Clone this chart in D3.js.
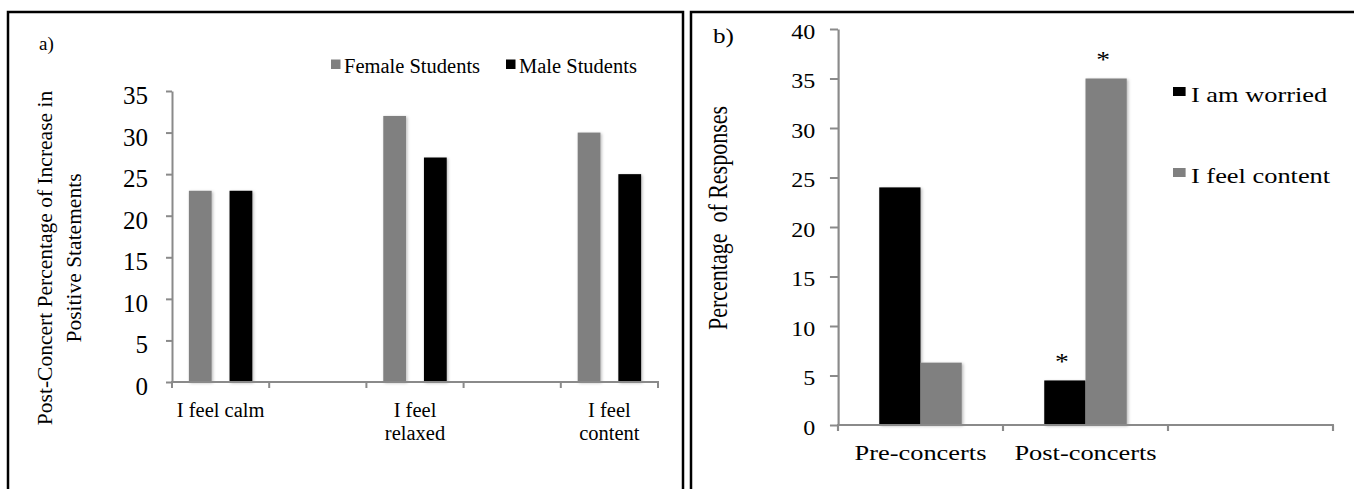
<!DOCTYPE html>
<html>
<head>
<meta charset="utf-8">
<script src="https://cdn.jsdelivr.net/npm/d3@7/dist/d3.min.js"></script>
<style>
  html, body { margin: 0; padding: 0; background: #fff; }
  svg { display: block; }
  text { font-family: "Liberation Serif", "Times New Roman", Times, serif; fill: #000; }
</style>
</head>
<body>
<svg id="chart" width="1354" height="489"></svg>
<script>
// ---------- DATA ----------
// Panel a
const categoriesA = ["I feel calm", "", "I feel relaxed", "", "I feel content"];
const tickLabelsA = [["I feel calm"], [], ["I feel", "relaxed"], [], ["I feel", "content"]];
const seriesNamesA = ["Female Students", "Male Students"];
const femaleValues = [23, null, 32, null, 30];
const maleValues = [23, null, 27, null, 25];
const yTicksA = [0, 5, 10, 15, 20, 25, 30, 35];
const yLabelA = ["Post-Concert Percentage of Increase in", "Positive Statements"];

// Panel b
const categoriesB = ["Pre-concerts", "Post-concerts", ""];
const seriesNamesB = ["I am worried", "I feel content"];
const worriedValues = [24, 4.5, null];
const contentValues = [6.3, 35, null];
const worriedSignificant = [false, true, false];
const contentSignificant = [false, true, false];
const yTicksB = [0, 5, 10, 15, 20, 25, 30, 35, 40];
const yLabelB = "Percentage  of Responses";

// ---------- STYLE ----------
const GRAY = "#808080";
const BLACK = "#000000";
const AXIS = "#8a8a8a";

const svg = d3.select("#chart");

const defs = svg.append("defs");
const f = defs.append("filter").attr("id", "shadow")
  .attr("x", "-20%").attr("y", "-5%").attr("width", "140%").attr("height", "110%");
f.append("feDropShadow").attr("dx", 1.2).attr("dy", 1).attr("stdDeviation", 1.4)
  .attr("flood-color", "#000").attr("flood-opacity", 0.28);

// Panel borders
svg.append("rect").attr("x", 8).attr("y", 12).attr("width", 675).attr("height", 520)
  .attr("fill", "none").attr("stroke", "#000").attr("stroke-width", 2.5);
svg.append("rect").attr("x", 691).attr("y", 12).attr("width", 720).attr("height", 520)
  .attr("fill", "none").attr("stroke", "#000").attr("stroke-width", 2.5);

// ================= PANEL A =================
(function () {
  const g = svg.append("g");
  const idx = d3.range(categoriesA.length);   // categories by position (blank ones repeat)
  const x = d3.scaleBand().domain(idx).range([172, 658]).padding(0);
  const xs = d3.scaleBand().domain(seriesNamesA).range([0, x.bandwidth()])
    .paddingInner(0.44).paddingOuter(0.415);
  const y = d3.scaleLinear().domain([0, 35]).range([382, 91]);
  const colors = { "Female Students": GRAY, "Male Students": BLACK };

  // bars
  const rows = [];
  idx.forEach(i => {
    [["Female Students", femaleValues[i]], ["Male Students", maleValues[i]]].forEach(([s, v]) => {
      if (v != null) rows.push({ i, s, v });
    });
  });
  g.append("g").attr("filter", "url(#shadow)").selectAll("rect").data(rows).join("rect")
    .attr("x", d => x(d.i) + xs(d.s))
    .attr("width", xs.bandwidth())
    .attr("y", d => y(d.v))
    .attr("height", d => y(0) - y(d.v))
    .attr("fill", d => colors[d.s]);

  // y axis
  const yAxis = g.append("g").attr("transform", "translate(172,0)")
    .call(d3.axisLeft(y).tickValues(yTicksA).tickSize(6).tickSizeOuter(0).tickPadding(18));
  yAxis.select(".domain").attr("stroke", AXIS).attr("stroke-width", 2);
  yAxis.selectAll(".tick line").attr("stroke", AXIS).attr("stroke-width", 2);
  yAxis.selectAll(".tick text").attr("dy", "0.5em")
    .style("font-family", '"Liberation Serif", "Times New Roman", serif')
    .style("font-size", "25px").attr("fill", "#000");

  // x axis
  const bounds = idx.map(i => x(i)).concat([x.range()[1]]);
  g.append("line").attr("x1", 171).attr("x2", 659).attr("y1", y(0)).attr("y2", y(0))
    .attr("stroke", AXIS).attr("stroke-width", 2);
  g.selectAll(".xtick").data(bounds).join("line").attr("class", "xtick")
    .attr("x1", d => d).attr("x2", d => d).attr("y1", y(0)).attr("y2", y(0) + 6)
    .attr("stroke", AXIS).attr("stroke-width", 2);
  idx.forEach(i => {
    const t = g.append("text").attr("text-anchor", "middle").style("font-size", "20.5px");
    tickLabelsA[i].forEach((ln, j) => {
      t.append("tspan").attr("x", x(i) + x.bandwidth() / 2).attr("y", 417 + j * 23).text(ln);
    });
  });

  // y label
  yLabelA.forEach((ln, j) => {
    g.append("text").attr("transform", `translate(${52 + j * 29},258) rotate(-90)`)
      .attr("text-anchor", "middle").style("font-size", "21.5px").text(ln);
  });

  // panel letter
  g.append("text").attr("x", 39).attr("y", 50).style("font-size", "19px").text("a)");

  // legend
  const legX = [331, 506];
  seriesNamesA.forEach((s, i) => {
    g.append("rect").attr("x", legX[i]).attr("y", 59.5).attr("width", 9.5).attr("height", 9.5)
      .attr("fill", colors[s]);
    g.append("text").attr("x", legX[i] + 13).attr("y", 73).style("font-size", "20.5px").text(s);
  });
})();

// ================= PANEL B =================
(function () {
  const SX = 1.2;            // horizontal stretch of panel b
  const ox = 838;            // y-axis position
  const g = svg.append("g").attr("transform", `translate(${ox},0) scale(${SX},1)`);
  const W = (1333 - ox) / SX;
  const idx = d3.range(categoriesB.length);
  const x = d3.scaleBand().domain(idx).range([0, W]).padding(0);
  const xs = d3.scaleBand().domain(seriesNamesB).range([0, x.bandwidth()])
    .paddingInner(0).paddingOuter(1);
  const y = d3.scaleLinear().domain([0, 40]).range([425, 29]);
  const colors = { "I am worried": BLACK, "I feel content": GRAY };

  const rows = [];
  idx.forEach(i => {
    [["I am worried", worriedValues[i], worriedSignificant[i]],
     ["I feel content", contentValues[i], contentSignificant[i]]].forEach(([s, v, sig]) => {
      if (v != null) rows.push({ i, s, v, sig });
    });
  });
  g.append("g").attr("filter", "url(#shadow)").selectAll("rect").data(rows).join("rect")
    .attr("x", d => x(d.i) + xs(d.s))
    .attr("width", xs.bandwidth())
    .attr("y", d => y(d.v))
    .attr("height", d => y(0) - y(d.v))
    .attr("fill", d => colors[d.s]);

  // significance asterisks
  g.selectAll(".star").data(rows.filter(d => d.sig)).join("text").attr("class", "star")
    .attr("x", d => x(d.i) + xs(d.s) + xs.bandwidth() / 2 - 2.5)
    .attr("y", d => y(d.v) - 11)
    .attr("text-anchor", "middle").style("font-size", "23px").text("*");

  // y axis
  const yAxis = g.append("g")
    .call(d3.axisLeft(y).tickValues(yTicksB).tickSize(6.7).tickSizeOuter(0).tickPadding(12.3));
  yAxis.select(".domain").attr("stroke", AXIS).attr("stroke-width", 1.8);
  yAxis.selectAll(".tick line").attr("stroke", AXIS).attr("stroke-width", 2);
  yAxis.selectAll(".tick text").attr("dy", "0.47em")
    .style("font-family", '"Liberation Serif", "Times New Roman", serif')
    .style("font-size", "20px").attr("fill", "#000");

  // x axis
  const bounds = idx.map(i => x(i)).concat([x.range()[1]]);
  g.append("line").attr("x1", -0.8).attr("x2", W + 0.8).attr("y1", y(0)).attr("y2", y(0))
    .attr("stroke", AXIS).attr("stroke-width", 2);
  g.selectAll(".xtick").data(bounds).join("line").attr("class", "xtick")
    .attr("x1", d => d).attr("x2", d => d).attr("y1", y(0)).attr("y2", y(0) + 6)
    .attr("stroke", AXIS).attr("stroke-width", 1.8);
  g.selectAll(".xlab").data(idx).join("text").attr("class", "xlab")
    .attr("x", i => x(i) + x.bandwidth() / 2).attr("y", 460)
    .attr("text-anchor", "middle").style("font-size", "22px").text(i => categoriesB[i]);

  // y label
  g.append("text").attr("transform", `translate(${(727 - ox) / SX},218) rotate(-90)`)
    .attr("text-anchor", "middle").style("font-size", "22px").style("white-space", "pre")
    .text(yLabelB);

  // panel letter
  g.append("text").attr("x", (713 - ox) / SX).attr("y", 43).style("font-size", "21px").text("b)");

  // legend
  const legY = [87, 168];
  seriesNamesB.forEach((s, i) => {
    g.append("rect").attr("x", (1173 - ox) / SX).attr("y", legY[i]).attr("width", 10.5).attr("height", 9)
      .attr("fill", colors[s]);
    g.append("text").attr("x", (1191 - ox) / SX).attr("y", legY[i] + 15)
      .style("font-size", "22px").text(s);
  });
})();
</script>
</body>
</html>
